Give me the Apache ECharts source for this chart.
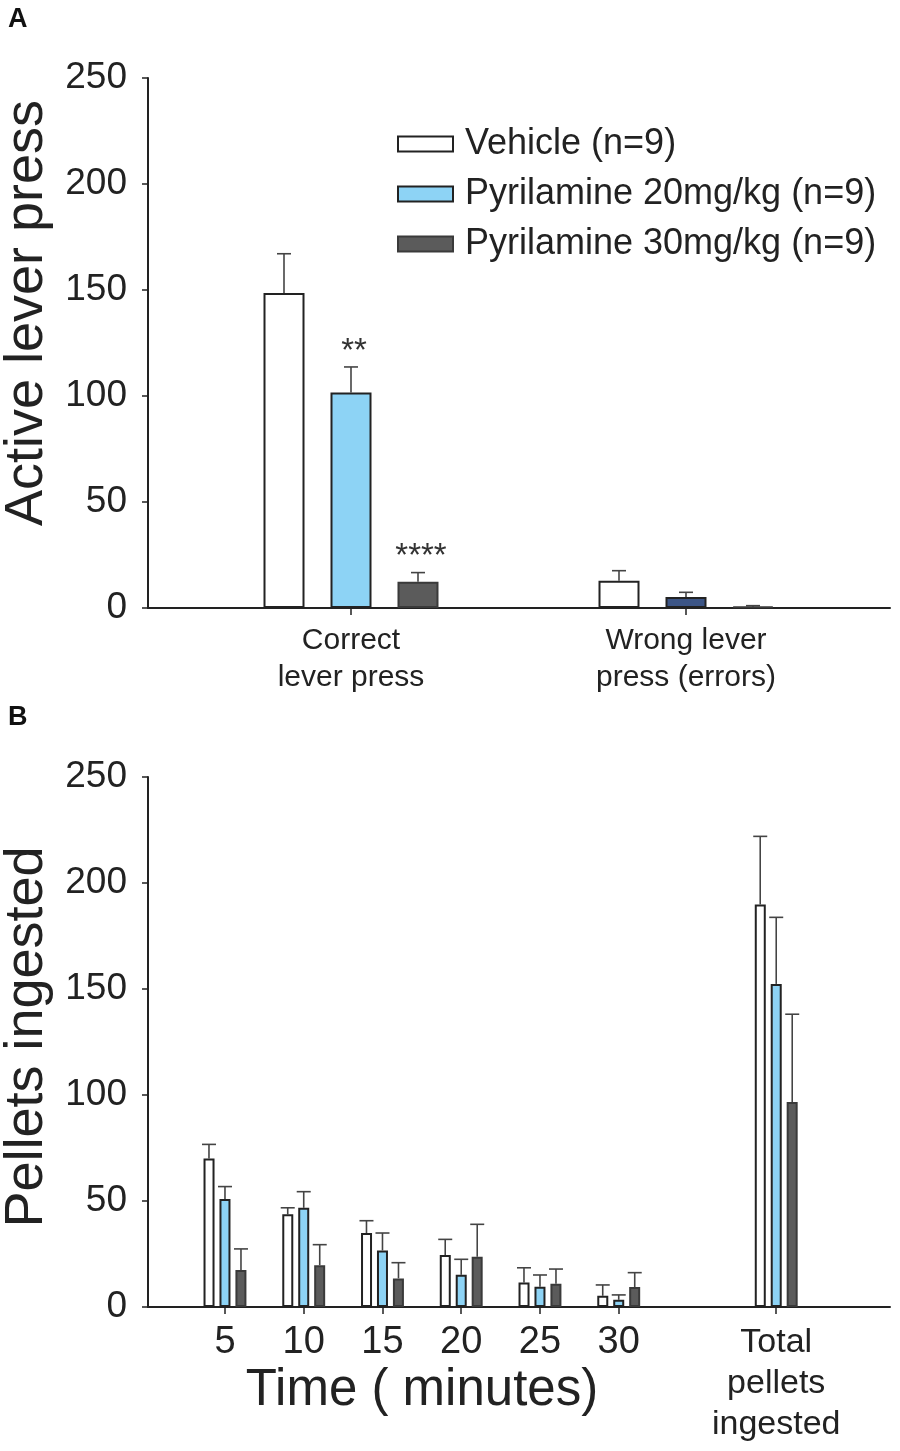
<!DOCTYPE html>
<html>
<head>
<meta charset="utf-8">
<script src="https://cdn.jsdelivr.net/npm/echarts@6/dist/echarts.min.js"></script>
<style>
  html, body { margin: 0; padding: 0; background: #fff; }
  #chart { width: 900px; height: 1451px; }
</style>
</head>
<body>
<div id="chart"></div>
<script>
// ---- panel A: lever presses ----
var groupsA = ['Correct\nlever press', 'Wrong lever\npress (errors)'];
var vehicleA = [148.6, 12.9];
var vehicleErrA = [18.5, 4.7];
var pyr20A = [101.7, 5.2];
var pyr20ErrA = [12.0, 2.2];
var pyr30A = [12.4, 0.6];
var pyr30ErrA = [4.3, 0.5];
var sig20A = ['**', ''];
var sig30A = ['****', ''];

// ---- panel B: pellets per 5 min bin + total ----
var timeB = ['5', '10', '15', '20', '25', '30', '', 'Total\npellets\ningested'];
var vehicleB = [70.1, 43.7, 34.9, 24.5, 11.5, 5.3, null, 189.9];
var vehicleErrB = [6.6, 3.1, 5.8, 7.4, 7.0, 5.1, null, 32.1];
var pyr20B = [51.0, 46.8, 26.7, 15.2, 9.6, 3.4, null, 152.4];
var pyr20ErrB = [5.8, 7.6, 8.2, 7.3, 5.5, 2.3, null, 31.4];
var pyr30B = [17.5, 19.7, 13.5, 23.7, 11.0, 9.4, null, 96.7];
var pyr30ErrB = [9.9, 9.7, 7.4, 15.3, 6.9, 6.8, null, 41.4];

var names = ['Vehicle (n=9)', 'Pyrilamine 20mg/kg (n=9)', 'Pyrilamine 30mg/kg (n=9)'];
var FONT = 'Liberation Sans, Arial, Helvetica, sans-serif';
var INK = '#222';

var chart = echarts.init(document.getElementById('chart'));

function bars(v) {
    return v.map(function (x) { return x == null ? '-' : x; });
}
function errData(m, e) {
    var out = [];
    for (var i = 0; i < m.length; i++) {
        if (m[i] != null) out.push([i, m[i], e[i]]);
    }
    return out;
}
// draws the one-sided SEM whisker (and an optional significance mark)
function errRenderer(offset, capHalf, sig) {
    return function (params, api) {
        var i = api.value(0), m = api.value(1), e = api.value(2);
        var p0 = api.coord([i, m]);
        var p1 = api.coord([i, m + e]);
        var x = p0[0] + offset;
        var st = { stroke: '#444', lineWidth: 1.6 };
        var kids = [
            { type: 'line', shape: { x1: x, y1: p0[1], x2: x, y2: p1[1] }, style: st },
            { type: 'line', shape: { x1: x - capHalf, y1: p1[1], x2: x + capHalf, y2: p1[1] }, style: st }
        ];
        var s = sig && sig[params.dataIndex];
        if (s) {
            kids.push({
                type: 'text', x: x + 3, y: p1[1] + 1,
                style: { text: s, fontSize: 33, fontFamily: FONT, fill: '#333', align: 'center', verticalAlign: 'bottom' }
            });
        }
        return { type: 'group', children: kids };
    };
}

var styleVeh = { color: '#ffffff', borderColor: INK, borderWidth: 2 };
var style20 = { color: '#8dd3f5', borderColor: INK, borderWidth: 2 };
var style30 = { color: '#5b5b5b', borderColor: '#3a3a3a', borderWidth: 2 };

var frameY = {
    type: 'value', min: 0, max: 250, interval: 50,
    axisLine: { show: true, lineStyle: { color: INK, width: 2 } },
    axisTick: { show: true, length: 6, lineStyle: { color: INK, width: 1.5 } },
    axisLabel: { fontSize: 37, color: INK, margin: 21, fontFamily: FONT },
    splitLine: { show: false },
    nameLocation: 'middle', nameRotate: 90
};
var frameX = {
    type: 'value', min: 0, max: 1,
    axisLine: { show: true, onZero: false, lineStyle: { color: INK, width: 2 } },
    axisTick: { show: false }, axisLabel: { show: false }, splitLine: { show: false }
};
var hiddenY = { type: 'value', min: 0, max: 250, show: false };

var pellet20 = pyr20A.map(function (v, i) {
    // the error-lever 20mg/kg bar is drawn in navy in the source figure
    return i === 1 ? { value: v, itemStyle: { color: '#3c5586' } } : v;
});

option = {
    animation: false,
    textStyle: { fontFamily: FONT },
    grid: [
        { left: 148, right: 10, top: 78, bottom: 843, outerBoundsMode: 'none', containLabel: false },
        { left: 183.5, right: 46.5, top: 78, bottom: 843, outerBoundsMode: 'none', containLabel: false },
        { left: 148, right: 10, top: 777, bottom: 144, outerBoundsMode: 'none', containLabel: false },
        { left: 185.6, right: 84.4, top: 777, bottom: 144, outerBoundsMode: 'none', containLabel: false }
    ],
    xAxis: [
        Object.assign({ gridIndex: 0 }, frameX),
        {
            gridIndex: 1, type: 'category', data: groupsA,
            axisLine: { show: false },
            axisTick: { show: true, alignWithLabel: true, length: 7, lineStyle: { color: INK, width: 1.5 } },
            axisLabel: { fontSize: 30, lineHeight: 37, color: INK, margin: 14, fontFamily: FONT }
        },
        Object.assign({ gridIndex: 2 }, frameX),
        {
            gridIndex: 3, type: 'category', data: timeB,
            axisLine: { show: false },
            axisTick: {
                show: true, alignWithLabel: true, length: 7, lineStyle: { color: INK, width: 1.5 },
                interval: function (i, v) { return v !== ''; }
            },
            axisLabel: {
                interval: 0, fontSize: 38, lineHeight: 42, color: INK, margin: 15, fontFamily: FONT,
                formatter: function (v) {
                    if (v.indexOf('\n') < 0) return v;
                    return v.split('\n').map(function (s) { return '{t|' + s + '}'; }).join('\n');
                },
                rich: { t: { fontSize: 34, lineHeight: 41, color: INK, fontFamily: FONT } }
            }
        }
    ],
    yAxis: [
        Object.assign({}, frameY, {
            gridIndex: 0, name: 'Active lever press', nameGap: 87,
            nameTextStyle: { fontSize: 54, color: INK, fontFamily: FONT, padding: [0, 0, 0, 60] }
        }),
        Object.assign({ gridIndex: 1 }, hiddenY),
        Object.assign({}, frameY, {
            gridIndex: 2, name: 'Pellets ingested', nameGap: 87,
            nameTextStyle: { fontSize: 54, color: INK, fontFamily: FONT, padding: [0, 0, 0, 10] }
        }),
        Object.assign({ gridIndex: 3 }, hiddenY)
    ],
    legend: {
        data: names, orient: 'vertical', left: 397, top: 126, padding: 0,
        itemWidth: 55, itemHeight: 15, itemGap: 14, icon: 'rect',
        textStyle: { fontSize: 36, color: INK, fontFamily: FONT, padding: [0, 0, 0, 7] }
    },
    graphic: [
        { type: 'text', left: 8, top: 6, style: { text: 'A', fontSize: 27, fontWeight: 'bold', fill: '#111', fontFamily: FONT } },
        { type: 'text', left: 8, top: 704, style: { text: 'B', fontSize: 27, fontWeight: 'bold', fill: '#111', fontFamily: FONT } },
        { type: 'text', x: 422, y: 1391, style: { text: 'Time ( minutes)', fontSize: 51, fill: INK, fontFamily: FONT, align: 'center', verticalAlign: 'middle' } }
    ],
    series: [
        { name: names[0], type: 'bar', xAxisIndex: 1, yAxisIndex: 1, data: vehicleA, barWidth: 41, barGap: '63.4%', itemStyle: styleVeh },
        { name: names[1], type: 'bar', xAxisIndex: 1, yAxisIndex: 1, data: pellet20, barWidth: 41, barGap: '63.4%', itemStyle: style20 },
        { name: names[2], type: 'bar', xAxisIndex: 1, yAxisIndex: 1, data: pyr30A, barWidth: 41, barGap: '63.4%', itemStyle: style30 },
        { type: 'custom', xAxisIndex: 1, yAxisIndex: 1, data: errData(vehicleA, vehicleErrA), renderItem: errRenderer(-67, 7, null) },
        { type: 'custom', xAxisIndex: 1, yAxisIndex: 1, data: errData(pyr20A, pyr20ErrA), renderItem: errRenderer(0, 7, sig20A) },
        { type: 'custom', xAxisIndex: 1, yAxisIndex: 1, data: errData(pyr30A, pyr30ErrA), renderItem: errRenderer(67, 7, sig30A) },

        { name: names[0], type: 'bar', xAxisIndex: 3, yAxisIndex: 3, data: bars(vehicleB), barWidth: 11, barGap: '45%', itemStyle: styleVeh },
        { name: names[1], type: 'bar', xAxisIndex: 3, yAxisIndex: 3, data: bars(pyr20B), barWidth: 11, barGap: '45%', itemStyle: style20 },
        { name: names[2], type: 'bar', xAxisIndex: 3, yAxisIndex: 3, data: bars(pyr30B), barWidth: 11, barGap: '45%', itemStyle: style30 },
        { type: 'custom', xAxisIndex: 3, yAxisIndex: 3, data: errData(vehicleB, vehicleErrB), renderItem: errRenderer(-16, 7, null) },
        { type: 'custom', xAxisIndex: 3, yAxisIndex: 3, data: errData(pyr20B, pyr20ErrB), renderItem: errRenderer(0, 7, null) },
        { type: 'custom', xAxisIndex: 3, yAxisIndex: 3, data: errData(pyr30B, pyr30ErrB), renderItem: errRenderer(16, 7, null) }
    ]
};
chart.setOption(option);
</script>
</body>
</html>
